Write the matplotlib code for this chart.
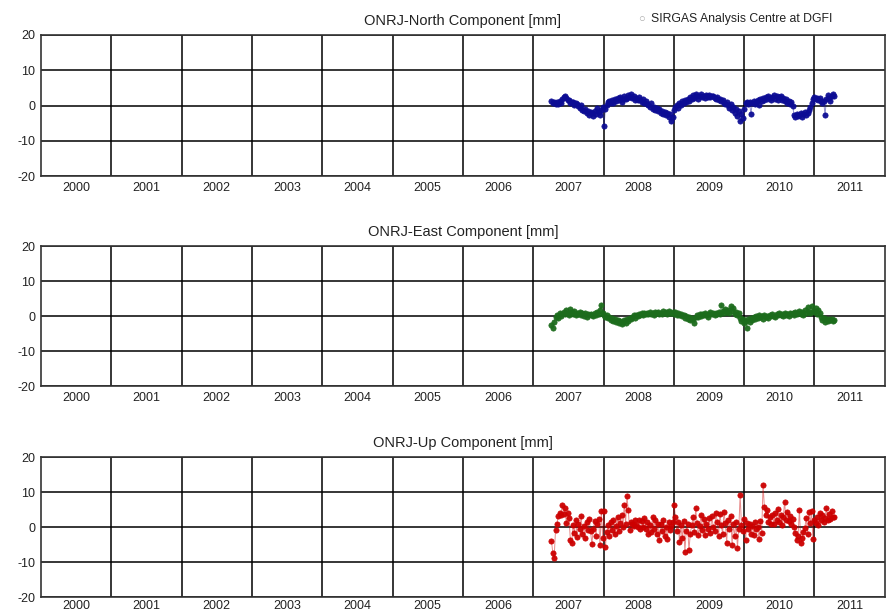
import numpy as np
import matplotlib
matplotlib.use('Agg')
import matplotlib.pyplot as plt

plt.rcParams['font.family'] = ['Liberation Sans', 'DejaVu Sans']
plt.rcParams['axes.unicode_minus'] = False

station = 'ONRJ'
# weekly solutions, first epoch in decimal years
t0 = 2006.76
week = 7.0 / 365.25

north = [1.4, 0.8, 1.1, 0.5, 0.9, 0.4, 1.2, 0.7, 1.8, 2.4,
         2.8, 2.1, 1.5, 1.7, 0.6, 0.9, 1.0, 0.3, 0.8, 0.5,
         -0.2, -0.6, 0.1, -1.2, -1.6, -0.9, -2.1, -1.4, -2.6, -1.8,
         -2.2, -3.0, -1.5, -2.4, -0.8, -1.9, -2.8, -1.2, -0.5, -5.7,
         -1.0, 0.3, 0.9, 1.3, 0.6, 1.5, 0.8, 1.9, 1.2, 2.1,
         1.6, 2.4, 1.0, 2.0, 2.6, 1.8, 2.2, 2.9, 2.5, 3.3,
         2.2, 2.8, 1.7, 2.1, 1.5, 2.3, 1.6, 1.1, 1.9, 0.8,
         1.3, 0.5, 0.2, -0.4, 0.6, -0.9, -0.3, -1.3, -0.7, -1.5,
         -1.1, -2.0, -1.6, -2.5, -1.9, -2.8, -2.2, -3.1, -2.4, -4.3,
         -3.3, -1.2, -0.4, 0.3, -0.6, 0.8, 0.2, 1.2, 0.6, 1.6,
         1.0, 2.0, 1.4, 2.4, 1.8, 2.9, 2.2, 3.3, 2.6, 2.0,
         2.8, 3.2, 2.4, 2.7, 2.1, 2.9, 2.5, 3.0, 2.3, 2.6,
         2.8, 2.2, 1.8, 2.5, 1.5, 2.0, 1.2, 1.6, 0.8, 0.4,
         1.0, 0.1, -0.6, 0.5, -1.2, -0.3, -2.0, -1.0, -3.0, -1.6,
         -4.5, -2.5, -3.4, -1.0, 0.8, 1.1, 0.4, 0.9, -2.4, 0.6,
         1.2, 0.5, 0.9, 1.5, 0.3, 1.8, 1.2, 2.1, 1.6, 2.4,
         1.9, 2.7, 2.2, 1.5, 2.5, 2.9, 2.0, 2.6, 1.7, 2.3,
         2.8, 1.6, 2.2, 1.2, 1.8, 0.7, 1.4, 0.4, 0.9, -0.2,
         -2.6, -3.2, -2.4, -3.0, -2.7, -2.2, -3.1, -2.5, -1.9, -2.8,
         -2.0, -1.2, -0.5, 0.8, 1.9, 2.3, 1.8, 2.2, 1.6, 2.1,
         1.4, 0.6, 1.3, -2.8, 1.8, 3.0, 2.2, 1.4, 2.6, 3.3, 2.8]

east = [-2.5, -3.5, -1.6, -0.3, 0.4, -0.6, 0.9, 0.1, 0.7, 1.2,
        0.6, 1.6, 0.9, 0.4, 1.9, 1.2, 0.7, 1.5, 0.3, 1.0,
        0.5, 1.3, 0.2, 0.8, 0.1, 0.9, -0.2, 0.6, 0.2, 0.7,
        0.3, -0.1, 0.8, 0.4, 1.1, 0.5, 1.6, 3.3, 0.9, 0.2,
        -0.3, 0.4, -0.6, -0.2, -1.0, -0.5, -1.3, -0.8, -1.6, -1.1,
        -2.0, -1.5, -2.2, -1.7, -1.2, -1.9, -0.8, -1.4, -0.6, -0.9,
        -0.3, 0.2, -0.5, 0.4, 0.0, 0.6, 0.3, 0.8, 0.4, 0.9,
        0.5, 1.0, 0.6, 1.2, 0.7, 0.9, 0.4, 1.1, 0.8, 1.3,
        0.6, 1.0, 0.5, 1.4, 0.9, 1.2, 0.7, 1.5, 1.0, 0.8,
        1.3, 0.6, 1.1, 0.4, 0.9, 0.2, 0.7, -0.1, 0.3, -0.5,
        0.1, -0.8, -0.3, -1.1, -0.6, -0.9, -2.0, -0.4, 0.2, -0.3,
        0.5, 0.1, 0.7, 0.3, 0.9, 0.4, -0.2, 0.6, 1.1, 0.5,
        0.8, 0.2, 1.0, 0.6, 1.3, 0.7, 3.3, 1.5, 0.9, 2.0,
        1.1, 1.8, 0.8, 2.9, 1.4, 2.2, 0.6, 1.2, 0.4, 0.9,
        -0.5, -1.3, -0.8, -2.0, -1.4, -3.3, -0.9, -1.6, -0.6, -1.1,
        -0.3, -0.8, -0.1, -0.6, 0.2, -0.4, 0.0, -0.7, 0.3, -0.2,
        0.1, -0.5, 0.4, 0.0, 0.6, 0.1, -0.3, 0.5, 0.2, 0.8,
        0.3, 0.7, 0.1, 0.9, 0.4, 0.6, 0.0, 1.0, 0.5, 0.8,
        0.3, 1.1, 0.6, 0.9, 1.4, 0.7, 1.2, 0.4, 1.6, 1.0,
        2.5, 1.3, 0.8, 2.8, 1.5, 1.1, 2.2, 0.6, 1.8, 0.9,
        -0.4, -1.2, -0.6, -1.8, -0.9, -1.5, -0.7, -1.2, -0.8, -1.4, -1.0]

up = [-4.0, -7.3, -8.7, -0.8, 0.9, 3.2, 4.1, 3.4, 6.4, 3.8,
      5.4, 1.2, 4.0, 2.6, -3.5, -4.5, 0.5, -1.6, 2.2, -2.8,
      1.0, -0.6, 3.2, -1.8, 0.3, -3.2, 1.6, -0.8, 2.4, -1.2,
      -4.8, -0.4, 1.8, -2.4, 0.8, 2.4, -5.0, 4.5, -3.0, 4.6,
      -5.5, -1.5, 0.6, -2.6, 1.4, -0.8, 2.0, -2.0, 0.4, 2.8,
      -1.2, 1.2, 3.6, 0.2, 6.4, 1.0, 8.8, 5.0, -0.8, 1.4,
      0.9, 0.4, 2.2, 0.6, 0.0, 2.0, -0.6, 1.8, 0.2, 2.6,
      -0.4, 1.4, -2.0, 0.6, -1.4, 3.0, -0.6, 2.2, -1.8, 0.8,
      -3.6, 1.0, -1.2, 2.0, -2.4, 0.2, -3.4, 1.6, -0.8, 0.4,
      1.6, 6.4, 3.0, -1.2, 1.6, -4.2, 0.6, -3.2, 1.8, -7.0,
      -1.0, 0.8, -6.6, -2.0, 0.6, 2.8, -1.4, 5.4, 1.2, -2.2,
      0.4, 3.6, -0.8, 2.4, -2.2, 1.0, -0.4, 2.6, -1.6, 3.2,
      0.2, -1.0, 4.2, 1.6, -2.6, 3.8, 0.6, -1.8, 4.4, 1.2,
      -4.4, 2.2, -0.6, 3.2, -5.0, 0.8, -2.6, 1.6, -5.8, -0.4,
      9.2, 0.6, -1.2, 2.4, -3.6, 1.2, -0.6, 0.8, -1.8, 0.4,
      -2.2, 1.4, -0.4, 0.0, -3.4, 1.8, -1.6, 12.1, 5.8, 3.6,
      4.8, 1.6, 2.8, 0.8, 3.6, 1.0, 4.0, 2.2, 5.2, 1.4,
      3.4, 0.6, 2.8, 7.3, 2.0, 4.4, 1.8, 3.2, 0.8, 2.4,
      0.2, -1.6, -3.6, -2.4, 5.0, -4.6, -3.0, -1.4, -0.2, 2.6,
      -1.8, 4.4, 1.2, 4.6, -3.4, 2.2, 1.2, 3.0, 0.6, 4.2,
      2.0, 3.6, 1.4, 2.6, 5.4, 2.2, 3.8, 2.4, 4.6, 2.8, 3.0]

components = ['North', 'East', 'Up']
colors = ['#0c0c94', '#1c6c1c', '#cc0000']
years = list(range(2000, 2012))

fig = plt.figure(figsize=(8.91, 6.12), dpi=100)
boxes = [[0.046, 0.712, 0.947, 0.231],
         [0.046, 0.369, 0.947, 0.229],
         [0.046, 0.024, 0.947, 0.229]]

for i, (comp, vals, col, box) in enumerate(zip(components, [north, east, up], colors, boxes)):
    ax = fig.add_axes(box)
    t = t0 + np.arange(len(vals)) * week
    ax.plot(t, vals, '-', color=col, lw=0.7, alpha=0.45, zorder=3)
    ax.plot(t, vals, 'o', color=col, ms=3.8, mec=col, mew=0.5, alpha=0.95, zorder=4)

    ax.set_xlim(1999.5, 2011.5)
    ax.set_ylim(-20, 20)
    ax.set_xticks(years)
    ax.set_xticklabels([str(y) for y in years])
    ax.set_xticks(np.arange(2000.5, 2011.0, 1.0), minor=True)
    ax.set_yticks([-20, -10, 0, 10, 20])
    ax.grid(True, which='minor', axis='x', color='black', lw=1.1)
    ax.grid(True, which='major', axis='y', color='black', lw=1.1)
    ax.tick_params(which='both', length=0, labelsize=9, colors='#222222')
    ax.tick_params(axis='x', pad=2 if i == 2 else 4)
    ax.tick_params(axis='y', pad=4)
    for s in ax.spines.values():
        s.set_color('#333333')
        s.set_linewidth(1.2)
    ax.set_title('%s-%s Component [mm]' % (station, comp), fontsize=10.5, pad=7, color='#222222')

fig.text(0.716, 0.969, u'\u25cb', fontsize=8, color='#aaaaaa', va='center')
fig.text(0.731, 0.969, 'SIRGAS Analysis Centre at DGFI', fontsize=8.8, color='#222222', va='center')

fig.savefig('out.png', dpi=100)
